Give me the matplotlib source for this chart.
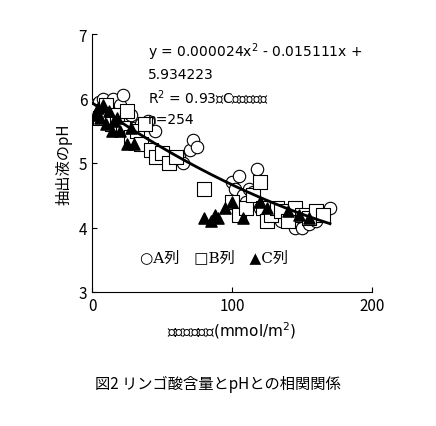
import matplotlib
matplotlib.use("Agg")
import matplotlib.pyplot as plt
import numpy as np

plt.rcParams['font.family'] = ['Noto Sans CJK JP', 'DejaVu Sans']

a_x = [2,5,8,12,15,18,20,22,25,28,30,35,40,45,55,62,65,70,72,75,100,102,105,108,110,112,115,118,120,125,130,135,140,145,150,155,160,165,170]
a_y = [5.9,5.95,6.0,5.85,6.0,5.8,5.9,6.05,5.7,5.75,5.55,5.6,5.65,5.5,5.1,5.1,5.0,5.2,5.35,5.25,4.7,4.6,4.8,4.5,4.4,4.6,4.55,4.9,4.3,4.2,4.25,4.1,4.1,4.0,4.0,4.05,4.1,4.2,4.3]
b_x = [3,6,10,14,18,22,25,28,32,35,38,42,46,50,55,60,80,100,105,110,115,120,122,125,128,132,135,140,145,150,155,160,165]
b_y = [5.8,5.7,5.9,5.6,5.75,5.55,5.8,5.4,5.5,5.3,5.6,5.2,5.1,5.15,5.0,5.1,4.6,4.4,4.2,4.3,4.5,4.7,4.3,4.1,4.2,4.3,4.25,4.1,4.3,4.2,4.15,4.25,4.2]
c_x = [2,4,6,8,10,12,14,16,18,20,25,28,30,80,85,88,90,95,100,108,120,125,140,148,155]
c_y = [5.75,5.85,5.7,5.9,5.6,5.8,5.5,5.65,5.7,5.5,5.3,5.55,5.3,4.15,4.1,4.2,4.15,4.3,4.4,4.15,4.4,4.3,4.25,4.2,4.15]
coef = [0.000024, -0.015111, 5.934223]

fig = plt.figure(figsize=(4.36, 4.27), dpi=100)
ax = fig.add_axes([92/436, 1-293/427, 280/436, 258/427])
ax.scatter(a_x, a_y, marker='o', s=80, facecolors='white', edgecolors='black', linewidths=0.8, zorder=3)
ax.scatter(b_x, b_y, marker='s', s=90, facecolors='white', edgecolors='black', linewidths=0.8, zorder=3)
ax.scatter(c_x, c_y, marker='^', s=65, color='black', zorder=4)
xf = np.linspace(0, 170, 200)
ax.plot(xf, np.polyval(coef, xf), color='black', lw=2, zorder=5)
ax.set_xlim(0, 198)
ax.set_ylim(3, 7)
ax.set_xticks([0, 100, 200]); ax.set_yticks([3, 4, 5, 6, 7])
ax.tick_params(direction='in', labelsize=11)
for s in ['top', 'right']:
    ax.spines[s].set_visible(False)
ax.set_xlabel('リンゴ酸含量(mmol/m$^2$)', fontsize=11, family=['DejaVu Sans', 'Noto Sans CJK JP'])
ax.set_ylabel('抽出液のpH', fontsize=11)
ax.text(0.2, 0.975, 'y = 0.000024x$^2$ - 0.015111x +\n5.934223\nR$^2$ = 0.93（C列を除く）\nn=254',
        transform=ax.transAxes, fontsize=10, va='top', linespacing=1.45,
        family=['DejaVu Sans', 'Noto Sans CJK JP'])
ax.text(0.17, 0.12, '○A列   □B列   ▲C列', transform=ax.transAxes, fontsize=11,
        family=['DejaVu Serif', 'Noto Sans CJK JP'])
fig.text(0.5, 0.09, '図2 リンゴ酸含量とpHとの相関関係', ha='center', fontsize=11)
fig.savefig('out.png', dpi=100)
